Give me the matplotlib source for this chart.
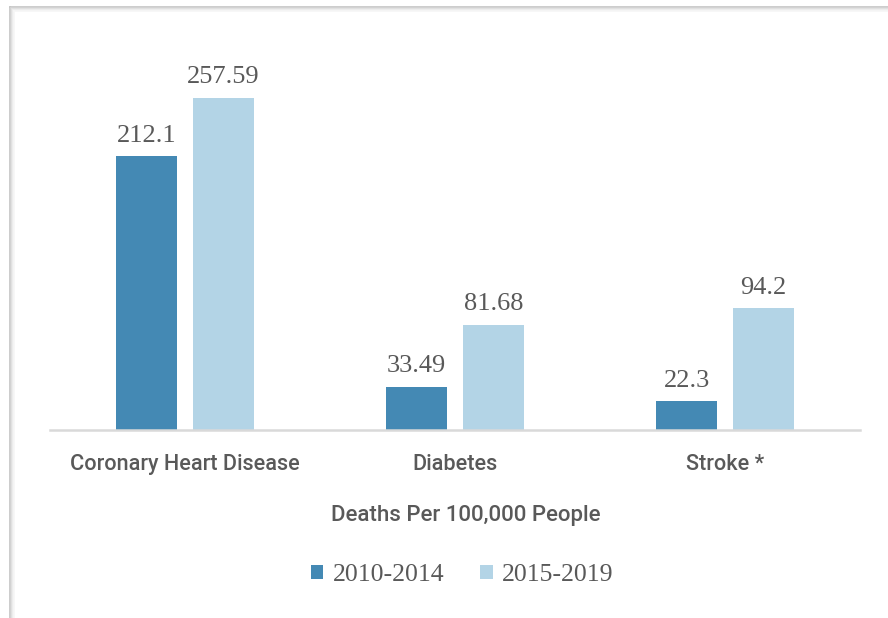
import matplotlib
matplotlib.use("Agg")
import matplotlib.pyplot as plt
from matplotlib.lines import Line2D
import numpy as np

categories = ["Coronary Heart Disease", "Diabetes", "Stroke *"]
period_labels = ["2010-2014", "2015-2019"]
deaths_2010_2014 = [212.1, 33.49, 22.3]
deaths_2015_2019 = [257.59, 81.68, 94.2]
value_labels_2010 = ["212.1", "33.49", "22.3"]
value_labels_2015 = ["257.59", "81.68", "94.2"]

dark = "#4489B4"
light = "#B3D4E6"
text_col = "#595959"

W, H = 888, 618
fig = plt.figure(figsize=(W / 100, H / 100), dpi=100)
fig.patch.set_facecolor("white")

# frame with soft shadow (cut off at right/bottom like the source)
for off, c in [(0, "#c4c4c4"), (1, "#d4d4d4"), (2, "#e2e2e2"), (3, "#eeeeee"), (4, "#f6f6f6")]:
    x = (10 + off) / W
    y = 1 - (7 + off) / H
    fig.add_artist(Line2D([x, x], [0, y], color=c, lw=1.2, transform=fig.transFigure))
    fig.add_artist(Line2D([x, 1], [y, y], color=c, lw=1.2, transform=fig.transFigure))

ax = fig.add_axes([50 / W, (H - 430) / H, 810 / W, 400 / H])
x = np.arange(len(categories))
bw = 0.226
gap = 0.059
off = (bw + gap) / 2
b1 = ax.bar(x - off, deaths_2010_2014, bw, color=dark, label=period_labels[0])
b2 = ax.bar(x + off, deaths_2015_2019, bw, color=light, label=period_labels[1])

serif = ["Liberation Serif", "DejaVu Serif"]
for bars, labels in [(b1, value_labels_2010), (b2, value_labels_2015)]:
    for rect, lab in zip(bars, labels):
        ax.annotate(lab, (rect.get_x() + rect.get_width() / 2, rect.get_height()),
                    xytext=(0, 7), textcoords="offset points", ha="center", va="bottom",
                    fontsize=19, color=text_col, family=serif)

ax.set_xlim(-0.5, 2.5)
ax.set_ylim(0, 310)
ax.set_yticks([])
for s in ["top", "right", "left"]:
    ax.spines[s].set_visible(False)
ax.spines["bottom"].set_color("#d9d9d9")
ax.spines["bottom"].set_linewidth(1.8)
ax.set_xticks(x)
ax.set_xticklabels(categories, fontsize=15.6, color=text_col, family="Roboto",
                   fontweight="medium")
ax.tick_params(axis="x", length=0, pad=17)
ax.set_xlabel("Deaths Per 100,000 People", fontsize=16, color=text_col,
              family="Roboto", fontweight="medium", va="center")
ax.xaxis.set_label_coords((466 - 50) / 810, -(516 - 430) / 400)

leg = fig.legend(handles=[b1, b2], labels=period_labels, loc="center",
                 bbox_to_anchor=(462 / W, 1 - 575 / H), ncol=2, frameon=False,
                 prop={"family": serif, "size": 18.5}, handlelength=0.5, handleheight=0.5,
                 handletextpad=0.35, columnspacing=1.4)
for t in leg.get_texts():
    t.set_color(text_col)

fig.savefig("out.png", dpi=100)
